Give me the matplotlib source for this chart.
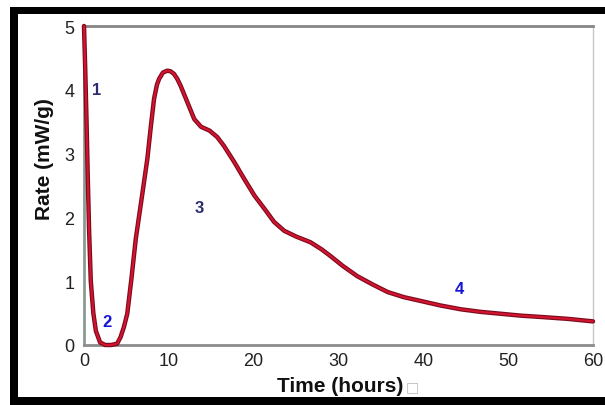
import matplotlib
matplotlib.use("Agg")
import matplotlib.pyplot as plt
from matplotlib.patches import Rectangle

# Data
time_h = [0, 0.15, 0.3, 0.45, 0.6, 0.8, 1.1, 1.4, 1.9, 2.5, 3.2, 3.9, 4.3, 4.7,
          5.1, 5.6, 6.1, 6.8, 7.47, 7.9, 8.26, 8.6, 8.85, 9.3, 9.83, 10.2, 10.6,
          11.0, 11.4, 12.2, 13.0, 13.8, 14.8, 15.7, 16.5, 17.7, 18.9, 20.1, 21.3,
          22.4, 23.6, 25.0, 26.7, 28.0, 29.0, 30.5, 32.2, 34.0, 35.8, 37.7, 39.7,
          42.0, 44.4, 46.7, 49.1, 51.5, 53.8, 57.0, 60.0]
rate = [5.0, 4.3, 3.5, 2.6, 1.8, 1.0, 0.5, 0.22, 0.04, 0.0, 0.0, 0.02, 0.12, 0.28,
        0.49, 1.05, 1.66, 2.3, 2.92, 3.45, 3.86, 4.08, 4.17, 4.27, 4.30, 4.29, 4.25,
        4.17, 4.06, 3.80, 3.54, 3.42, 3.36, 3.26, 3.12, 2.87, 2.60, 2.34, 2.13,
        1.93, 1.79, 1.70, 1.61, 1.50, 1.40, 1.24, 1.08, 0.95, 0.83, 0.75, 0.69,
        0.62, 0.56, 0.52, 0.49, 0.46, 0.44, 0.41, 0.37]
phase_labels = ["1", "2", "3", "4"]
phase_t = [1.5, 2.7, 13.6, 44.2]
phase_v = [4.0, 0.37, 2.15, 0.89]
phase_colors = ["#2b2b72", "#1414d8", "#2b2b72", "#1414d8"]
x_ticks = [0, 10, 20, 30, 40, 50, 60]
y_ticks = [0, 1, 2, 3, 4, 5]

plt.rcParams['font.family'] = ['Liberation Sans', 'DejaVu Sans']

W, H = 605, 406
fig = plt.figure(figsize=(W / 100, H / 100), dpi=100)
fig.patch.set_facecolor("white")


def fx(px):
    return px / W


def fy(py):
    return 1 - py / H


# black frame (left, top, bottom edges)
fig.add_artist(Rectangle((fx(10), fy(406)), fx(8), fy(8) - fy(406),
                         transform=fig.transFigure, color="black", lw=0))
fig.add_artist(Rectangle((fx(10), fy(15)), 1 - fx(10), fy(8) - fy(15),
                         transform=fig.transFigure, color="black", lw=0))
fig.add_artist(Rectangle((fx(10), fy(406)), 1 - fx(10), fy(398) - fy(406),
                         transform=fig.transFigure, color="black", lw=0))

ax = fig.add_axes([fx(84), fy(346), fx(593) - fx(84), fy(27) - fy(346)])
ax.set_facecolor("white")
ax.plot(time_h, rate, color="#7a0a1e", lw=3.2, solid_joinstyle="round",
        solid_capstyle="round", zorder=3, clip_on=False)
ax.plot(time_h, rate, color="#d3142e", lw=1.6, solid_joinstyle="round",
        solid_capstyle="round", zorder=4, clip_on=False)

for lab, t, v, c in zip(phase_labels, phase_t, phase_v, phase_colors):
    ax.text(t, v, lab, color=c, fontsize=12, fontweight="bold",
            ha="center", va="center", zorder=5)

ax.set_xlim(0, 60)
ax.set_ylim(0, 5)
ax.set_xticks(x_ticks)
ax.set_yticks(y_ticks)
ax.tick_params(length=0, labelsize=13, labelcolor="#222222")
ax.tick_params(axis="x", pad=5)
ax.tick_params(axis="y", pad=7)
for s in ax.spines.values():
    s.set_color("#8c8c8c")
    s.set_linewidth(2)
ax.spines["left"].set_color("#8a9a92")
ax.spines["top"].set_color("#858585")
ax.spines["right"].set_color("#c8c8c8")
ax.spines["right"].set_linewidth(1)

ax.set_ylabel("Rate (mW/g)", fontsize=15, fontweight="bold", color="#111111")
ax.set_xlabel("Time (hours)", fontsize=15, fontweight="bold", color="#111111")
ax.xaxis.set_label_coords((340 - 84) / 509, (346 - 387) / 319)
ax.xaxis.label.set_va("center")
ax.yaxis.set_label_coords((44 - 84) / 509, (346 - 159) / 319)
ax.yaxis.label.set_va("center")
fig.text(fx(412), fy(387), "\u25a1", fontsize=10, color="#bbbbbb",
         ha="center", va="center", family=["DejaVu Sans"])

fig.savefig("out.png", dpi=100)
